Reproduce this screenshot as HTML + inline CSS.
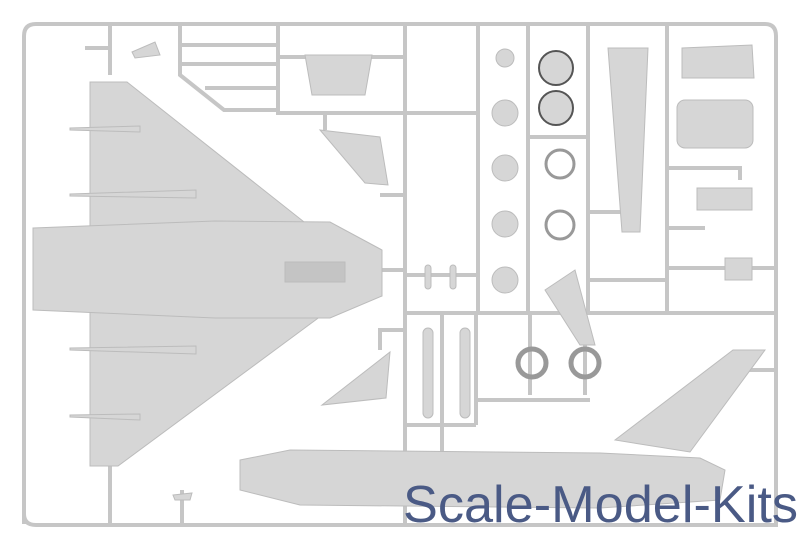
<!DOCTYPE html>
<html><head><style>
html,body{margin:0;padding:0;background:#fff;}
svg{display:block;}
</style></head><body>
<svg width="800" height="552" viewBox="0 0 800 552" xmlns="http://www.w3.org/2000/svg">
<rect width="800" height="552" fill="#fff"/>
<g fill="none" stroke="#c6c6c6" stroke-width="4">
<path d="M24 524 L24 36 Q24 24 36 24 L765 24 Q776 24 776 36 L776 525 L36 525 Q24 525 24 514"/>
<path d="M405 24 L405 525"/>
<path d="M405 313 L776 313"/>
<path d="M478 24 L478 313"/>
<path d="M528 24 L528 313"/>
<path d="M588 24 L588 313"/>
<path d="M667 24 L667 313"/>
<path d="M528 137 L588 137"/>
<path d="M405 113 L478 113"/>
<path d="M405 275 L478 275"/>
<path d="M588 212 L630 212"/>
<path d="M588 280 L667 280"/>
<path d="M667 168 L740 168 L740 180"/>
<path d="M667 228 L705 228"/>
<path d="M667 268 L776 268"/>
<path d="M110 24 L110 75 M85 48 L110 48"/>
<path d="M180 24 L180 75 L224 110 L280 110"/>
<path d="M180 45 L278 45 M180 64 L278 64 M205 88 L278 88"/>
<path d="M278 24 L278 113 L405 113"/>
<path d="M278 57 L310 57 M360 57 L405 57"/>
<path d="M325 113 L325 130"/>
<path d="M380 195 L405 195"/>
<path d="M380 270 L405 270"/>
<path d="M380 350 L380 330 L405 330"/>
<path d="M405 425 L476 425 M476 313 L476 425 M442 313 L442 460"/>
<path d="M476 400 L590 400 M530 313 L530 395 M585 313 L585 395"/>
<path d="M735 370 L776 370"/>
<path d="M110 466 L110 525 M182 490 L182 525"/>
</g>
<g fill="#d6d6d6" stroke="#bcbcbc" stroke-width="1">
<polygon points="90,82 127,82 318,233 90,238"/>
<polygon points="90,312 325,313 118,466 90,466"/>
<polygon points="33,228 215,221 330,222 382,250 382,296 330,318 215,318 33,310"/>
<rect x="285" y="262" width="60" height="20" fill="#c4c4c4"/>
<polygon points="70,128 140,126 140,132 70,130"/>
<polygon points="70,194 196,190 196,198 70,196"/>
<polygon points="70,348 196,346 196,354 70,350"/>
<polygon points="70,415 140,414 140,420 70,417"/>
<polygon points="240,460 290,450 600,453 700,458 725,470 720,500 600,508 300,505 240,490"/>
<polygon points="615,440 733,350 765,350 690,452"/>
<polygon points="305,55 372,55 365,95 312,95"/>
<polygon points="320,130 380,137 388,185 365,183"/>
<polygon points="322,405 390,352 386,398"/>
<polygon points="132,52 155,42 160,55 135,58"/>
<polygon points="608,48 648,48 640,232 622,232"/>
<polygon points="682,48 752,45 754,78 682,78"/>
<rect x="677" y="100" width="76" height="48" rx="8"/>
<rect x="697" y="188" width="55" height="22"/>
<rect x="725" y="258" width="27" height="22"/>
<polygon points="545,290 575,270 595,345 580,345"/>
<circle cx="556" cy="68" r="17" stroke="#555" stroke-width="2"/>
<circle cx="556" cy="108" r="17" stroke="#555" stroke-width="2"/>
<circle cx="505" cy="58" r="9"/><circle cx="505" cy="113" r="13"/>
<circle cx="505" cy="168" r="13"/><circle cx="505" cy="224" r="13"/>
<circle cx="505" cy="280" r="13"/>
<circle cx="560" cy="164" r="14" fill="none" stroke="#999" stroke-width="3"/>
<circle cx="560" cy="225" r="14" fill="none" stroke="#999" stroke-width="3"/>
<circle cx="532" cy="363" r="14" fill="none" stroke="#999" stroke-width="5"/>
<circle cx="585" cy="363" r="14" fill="none" stroke="#999" stroke-width="5"/>
<rect x="423" y="328" width="10" height="90" rx="5"/>
<rect x="460" y="328" width="10" height="90" rx="5"/>
<rect x="425" y="265" width="6" height="24" rx="3"/>
<rect x="450" y="265" width="6" height="24" rx="3"/>
<polygon points="173,495 192,493 190,500 175,500"/>
</g>
<text x="403" y="522" font-family="Liberation Sans, sans-serif" font-size="52" fill="#4a5a85" textLength="395" lengthAdjust="spacingAndGlyphs">Scale-Model-Kits</text>
</svg>
</body></html>
